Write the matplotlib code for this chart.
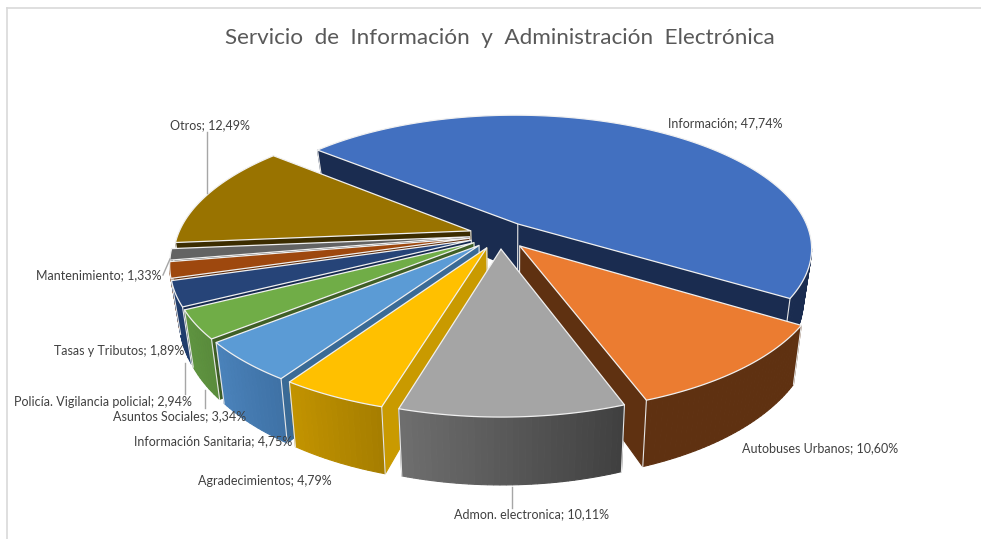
import numpy as np
import matplotlib
matplotlib.use('Agg')
import matplotlib.pyplot as plt
from matplotlib.colors import to_rgb

names = ['Información', 'Autobuses Urbanos', 'Admon. electronica', 'Agradecimientos',
         'Información Sanitaria', 'Asuntos Sociales', 'Policía. Vigilancia policial',
         'Tasas y Tributos', 'Mantenimiento', 'Otros']
values = [47.74, 10.60, 10.11, 4.79, 4.75, 3.34, 2.94, 1.89, 1.33, 12.49]

top_col = ['#4270C0', '#EB7C31', '#A5A5A5', '#FFC000', '#5B9BD5', '#70AD47', '#264478', '#9E480E', '#636363', '#997300']
side_col = ['#1A2C50', '#5F3111', '#6A6A6A', '#C99A00', '#3A6A96', '#3F5F26', '#162A50', '#5F2B08', '#3B3B3B', '#3B2C00']
rim_a = ['#1A2C50', '#5F3111', '#6E6E6E', '#C29300', '#4A82BA', '#5F9440', '#1F3C6C', '#7F3A0B', '#505050', '#5C4500']
rim_b = ['#1A2C50', '#5F3111', '#404040', '#A67E00', '#3F72A6', '#5A8C3C', '#1F3C6C', '#7F3A0B', '#505050', '#5C4500']

label_xy = [(725, 123), (820, 448), (531, 514), (265, 481), (213, 441), (180, 416), (103, 402), (119, 351), (99, 275), (210, 125)]
leaders = [([207, 207], [132, 193]), ([163, 170], [275, 259]), ([185, 185], [363, 394]),
           ([205, 205], [390, 408]), ([512, 512], [487, 508])]

# pie geometry in pixels
cx, cy = 500, 235
rx, ry = 293, 132
k = 0.18
explode = 0.105
start = -50
d0, d1 = 48, 18
vanish_x = 512
shrink = 0.973
draw_order = [0, 9, 8, 7, 6, 5, 4, 3, 1, 2]


def proj(X, Y):
    p = 1 / (1 - k * Y)
    return cx + rx * X * p, cy + ry * Y * p


def low_x(x):
    return vanish_x + (x - vanish_x) * shrink


def mix(a, b, t):
    a, b = np.array(to_rgb(a)), np.array(to_rgb(b))
    return a + (b - a) * t


fig = plt.figure(figsize=(9.81, 5.39), dpi=100)
ax = fig.add_axes([0, 0, 1, 1])
ax.set_xlim(0, 981)
ax.set_ylim(539, 0)
ax.axis('off')

# frame of the pasted chart
ax.plot([7, 981], [8, 8], color='#d9d9d9', lw=1.2)
ax.plot([7, 7], [8, 539], color='#d9d9d9', lw=1.2)

ends = start + np.cumsum(values) * 3.6
starts = ends - np.array(values) * 3.6

for i in draw_order:
    a0, a1 = starts[i], ends[i]
    mid = np.radians((a0 + a1) / 2)
    ox, oy = explode * np.sin(mid), -explode * np.cos(mid)
    th = np.radians(np.linspace(a0, a1, max(int(a1 - a0), 4) + 1))
    X = np.concatenate([[ox], ox + np.sin(th), [ox]])
    Y = np.concatenate([[oy], oy - np.cos(th), [oy]])
    px, py = proj(X, Y)
    dp = d0 + d1 * Y
    n = len(X) - 1
    # faces going leftwards are on the lower edge, so they can be seen
    for j in range(n):
        if px[j + 1] >= px[j]:
            continue
        if j == 0 or j == n - 1:
            c = side_col[i]
        else:
            c = mix(rim_a[i], rim_b[i], 1 - (j - 1) / max(n - 3, 1))
        ax.fill([px[j], px[j + 1], low_x(px[j + 1]), low_x(px[j])],
                [py[j], py[j + 1], py[j + 1] + dp[j + 1], py[j] + dp[j]],
                facecolor=c, edgecolor=c, lw=0.8, zorder=2)
    for j in [0, 1, n - 1]:
        ax.plot([px[j], low_x(px[j])], [py[j], py[j] + dp[j]], color='#e6e6e6', lw=0.8, zorder=2)
    ax.fill(px, py, facecolor=top_col[i], edgecolor='#f0f0f0', lw=0.9, zorder=2)

for lx, ly in leaders:
    ax.plot(lx, ly, color='#a6a6a6', lw=1, zorder=3)

for i, nm in enumerate(names):
    txt = nm + '; ' + ('%.2f%%' % values[i]).replace('.', ',')
    ax.text(label_xy[i][0], label_xy[i][1], txt, ha='center', va='center',
            fontsize=9, color='#404040', family='Lato', zorder=4)

ax.text(500, 38, 'Servicio  de  Información  y  Administración  Electrónica', ha='center', va='center',
        fontsize=16.2, color='#595959', family='Lato', zorder=4)

fig.savefig('out.png', dpi=100)
